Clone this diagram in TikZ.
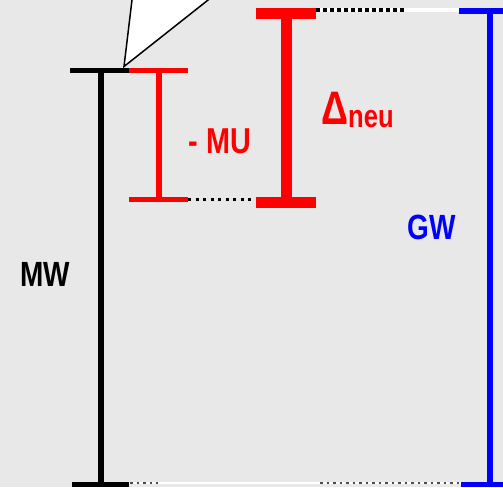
\documentclass[tikz,border=0pt]{standalone}
\usepackage{fontspec}
\newfontfamily\lblfont[FakeStretch=0.8]{Liberation Sans}
\definecolor{bggray}{RGB}{232,232,232}
\tikzset{
  bar/.style={line width=#1, line cap=butt},
  lbl/.style={font=\lblfont\bfseries, inner sep=0pt},
  guide/.style={line width=#1, line cap=butt, dash pattern=on 4pt off 3pt}
}
\begin{document}
\begin{tikzpicture}[x=1pt, y=-1pt]

  % ================= Hintergrund =================
  \fill[bggray] (0,0) rectangle (503,487);
  \useasboundingbox (0,0) rectangle (503,487);
  \clip (0,0) rectangle (503,487);

  % Zeiger (Dreieck)
  \draw[fill=white, line width=1.5pt, line join=miter] (132.6,-5) -- (124,66.5) -- (214.4,-5);

  % ================= MW (schwarz) =================
  \coordinate (mwtop) at (101,70.5);
  \coordinate (mwbot) at (101,484.5);
  \draw[bar=6pt] (mwtop) -- (mwbot);
  \draw[bar=5pt] (70,70.5) -- (129,70.5);
  \draw[bar=5pt] (72,484.5) -- (129,484.5);
  \node[lbl, text=black, font=\lblfont\bfseries\fontsize{35}{35}\selectfont] (mw) at (45,274.5) {MW};

  % ================= MU (rot, duenn) =================
  \coordinate (mutop) at (159,70.5);
  \coordinate (mubot) at (159,199.5);
  \draw[bar=5.5pt, red] (mutop) -- (mubot);
  \draw[bar=5pt, red] (129,70.5) -- (188,70.5);
  \draw[bar=5pt, red] (129,199.5) -- (188,199.5);
  \node[lbl, text=red, font=\lblfont\bfseries\fontsize{36}{36}\selectfont] (mu) at (220,141.5) {- MU};

  % Verbindung MU -- Delta unten
  \draw[bar=3pt, dash pattern=on 3pt off 4.5pt] (188,199.5) -- (256,199.5);

  % ================= Delta neu (rot, dick) =================
  \coordinate (dntop) at (286.5,13.5);
  \coordinate (dnbot) at (286.5,202.5);
  \draw[bar=11pt, red] (dntop) -- (dnbot);
  \draw[bar=11pt, red] (256,13.5) -- (316,13.5);
  \draw[bar=11pt, red] (256,202.5) -- (316,202.5);
  \node[lbl, text=red, anchor=base west] (dn) at (321,124)
    {{\fontsize{47}{47}\selectfont Δ}\raisebox{-3pt}{\fontsize{32}{32}\selectfont neu}};

  % Verbindung Delta -- GW oben
  \draw[bar=4pt, white] (316,10) -- (459,10);
  \draw[guide=4pt] (316,10) -- (406,10);

  % ================= GW (blau) =================
  \coordinate (gwtop) at (490,8);
  \coordinate (gwbot) at (490,487);
  \draw[bar=6pt, blue] (gwtop) -- (gwbot);
  \draw[bar=6pt, blue] (459,11) -- (503,11);
  \draw[bar=5pt, blue] (461,484.5) -- (503,484.5);
  \node[lbl, text=blue, font=\lblfont\bfseries\fontsize{35}{35}\selectfont] (gw) at (431.5,227.5) {GW};

  % Verbindung MW -- GW unten
  \draw[bar=2.5pt, white] (129,483) -- (461,483);
  \draw[bar=2.5pt, dash pattern=on 2.5pt off 4pt, black!70] (130,483) -- (158,483);
  \draw[bar=2.5pt, dash pattern=on 2.5pt off 4pt, black!70] (320,483) -- (461,483);

\end{tikzpicture}
\end{document}
